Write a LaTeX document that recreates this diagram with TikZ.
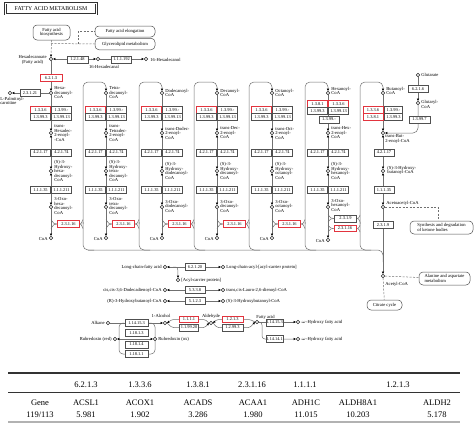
\documentclass[tikz,border=0pt]{standalone}
\usepackage{fontspec}
\setmainfont{Liberation Serif}
\usetikzlibrary{arrows.meta,backgrounds}
\definecolor{lg}{HTML}{707070}
\definecolor{bx}{HTML}{505050}
\definecolor{rd}{HTML}{E2343E}
\newcommand{\lf}{\fontsize{4.6}{4.5}\selectfont}
\newcommand{\ecf}{\fontsize{4.4}{4.5}\selectfont}
\begin{document}
\begin{tikzpicture}[x=1pt,y=-1pt,
 cpd/.style={circle,draw=black!85,fill=white,line width=0.45pt,inner sep=0pt,minimum size=3.6pt},
 ec/.style={draw=bx,fill=white,line width=0.5pt,inner sep=0pt,minimum width=20pt,minimum height=6.6pt,font=\ecf},
 ecr/.style={ec,draw=rd,line width=0.75pt},
 lbl/.style={font=\lf,inner sep=0.2pt,align=left},
 conn/.style={draw=lg,line width=0.5pt},
 arr/.style={-{Triangle[length=2.4pt,width=2.1pt,color=black]}},
 bi/.style={{Triangle[length=2.4pt,width=2.1pt,color=black]}-{Triangle[length=2.4pt,width=2.1pt,color=black]}},
 mapb/.style={draw=bx,fill=white,line width=0.5pt,rounded corners=4pt,align=center,font=\lf,inner sep=0pt},
 dsh/.style={draw=lg,line width=0.5pt,dash pattern=on 2pt off 1.5pt},
 tb/.style={font=\fontsize{8.5}{9}\selectfont,inner sep=0pt},
]
\begin{pgfonlayer}{background}
\fill[white] (0,0) rectangle (474,434);
\end{pgfonlayer}
\useasboundingbox (0,0) rectangle (474,434);

% title
\node[draw=black!80,line width=0.8pt,double=white,double distance=0.6pt,minimum width=91pt,minimum height=11pt,inner sep=0pt,font=\fontsize{5.8}{6}\selectfont] (title) at (51,8.5) {FATTY ACID METABOLISM};

% top map links
\node[mapb,minimum width=37pt,minimum height=15pt] (fab) at (51.5,32.5) {Fatty acid\\biosynthesis};
\node[mapb,minimum width=60pt,minimum height=11pt] (elo) at (125,31.5) {Fatty acid elongation};
\node[mapb,minimum width=60pt,minimum height=11.5pt] (gly) at (125,44) {Glycerolipid metabolism};

\node[cpd] (hxa) at (51,59) {};
\node[lbl,anchor=east,align=center] at (47,60) {Hexadecanoate\\(Fatty acid)};
\node[ec,minimum width=21pt] (e12148) at (77.5,59.5) {1.2.1.48};
\node[cpd] (hxal) at (98,59) {};
\node[lbl] at (104,67) {16-Hexadecanal};
\node[ec] (e111192) at (121.5,59.5) {1.1.1.192};
\node[cpd] (hxol) at (146,59) {};
\node[lbl,anchor=west] at (150,60) {16-Hexadecanol};
\node[ecr,minimum width=22pt] (e6213) at (51,78) {6.2.1.3};
\node[ec] (e23121) at (30,93) {2.3.1.21};
\node[cpd] (plc) at (10,93) {};
\node[lbl,anchor=north west] at (0,96.5) {L-Palmitoyl-\\carnitine};

% columns 1-5
\foreach \i/\c/\la/\lt/\lh/\lo in {
 1/51/{Hexa-\\decanoyl-\\CoA}/{trans-\\Hexadec-\\2-enoyl-\\-CoA}/{(S)-3-\\Hydroxy-\\hexa-\\decanoyl-\\CoA}/{3-Oxo-\\hexa-\\decanoyl-\\CoA},
 2/106/{Tetra-\\decanoyl-\\CoA}/{trans-\\Tetradec-\\2-enoyl-\\CoA}/{(S)-3-\\Hydroxy-\\tetra-\\decanoyl-\\CoA}/{3-Oxo-\\tetra-\\decanoyl-\\CoA},
 3/162/{Dodecanoyl-\\CoA}/{trans-Dodec-\\2-enoyl-\\CoA}/{(S)-3-\\Hydroxy-\\dodecanoyl-\\CoA}/{3-Oxo-\\dodecanoyl-\\CoA},
 4/217/{Decanoyl-\\CoA}/{trans-Dec-\\2-enoyl-\\CoA}/{(S)-3-\\Hydroxy-\\decanoyl-\\CoA}/{3-Oxo-\\decanoyl-\\CoA},
 5/272/{Octanoyl-\\CoA}/{trans-Oct-\\2-enoyl-\\CoA}/{(S)-3-\\Hydroxy-\\octanoyl-\\CoA}/{3-Oxo-\\octanoyl-\\CoA}}
{
 \node[cpd] (a\i) at (\c,93) {};
 \node[lbl,anchor=west] at (\c+3,93) {\la};
 \node[ecr] (p\i) at (\c-10.5,110) {1.3.3.6};
 \node[ec] (q\i) at (\c+10.5,110) {1.3.99.-};
 \node[ec] (r\i) at (\c-10.5,116.6) {1.3.99.3};
 \node[ec] (s\i) at (\c+10.5,116.6) {1.3.99.13};
 \node[cpd] (t\i) at (\c,133) {};
 \node[lbl,anchor=west] at (\c+3,133) {\lt};
 \node[ec] (u\i) at (\c-10.5,152.5) {4.2.1.17};
 \node[ec] (v\i) at (\c+10.5,152.5) {4.2.1.74};
 \node[cpd] (h\i) at (\c,171) {};
 \node[lbl,anchor=west] at (\c+3,171) {\lh};
 \node[ec] (w\i) at (\c-10.5,190) {1.1.1.35};
 \node[ec] (x\i) at (\c+10.5,190) {1.1.1.211};
 \node[cpd] (o\i) at (\c,207) {};
 \node[lbl,anchor=west] at (\c+3,206) {\lo};
 \node[ecr,minimum width=22pt] (th\i) at (\c+17.5,224) {2.3.1.16};
 \node[cpd] (coa\i) at (\c,238) {};
 \node[lbl,anchor=east] at (\c-3,238.5) {CoA};
}

% column 6
\node[cpd] (a6) at (328,93) {};
\node[lbl,anchor=west] at (331,91) {Hexanoyl-\\CoA};
\node[ecr] (p6) at (317.5,104) {1.3.8.1};
\node[ecr] (q6) at (338.5,104) {1.3.3.6};
\node[ec] (r6) at (317.5,110.6) {1.3.99.3};
\node[ec] (s6) at (338.5,110.6) {1.3.99.13};
\node[ec] (y6) at (329,119.5) {1.3.99.-};
\node[cpd] (t6) at (328,133) {};
\node[lbl,anchor=west] at (331,133) {trans-Hex-\\2-enoyl-\\CoA};
\node[ec] (u6) at (317.5,152.5) {4.2.1.17};
\node[ec] (v6) at (338.5,152.5) {4.2.1.74};
\node[cpd] (h6) at (328,171) {};
\node[lbl,anchor=west] at (331,171) {(S)-3-\\Hydroxy-\\hexanoyl-\\CoA};
\node[ec] (w6) at (317.5,190) {1.1.1.35};
\node[ec] (x6) at (338.5,190) {1.1.1.211};
\node[cpd] (o6) at (328,207) {};
\node[lbl,anchor=west] at (331,205) {3-Oxo-\\hexanoyl-\\CoA};
\node[ec,minimum width=22pt] (tn6) at (345.5,218.5) {2.3.1.9};
\node[ecr,minimum width=22pt] (th6) at (345,228.5) {2.3.1.16};
\node[cpd] (coa6) at (328,240) {};
\node[lbl,anchor=east] at (325,240.5) {CoA};

% column 7
\node[cpd] (a7) at (383,93) {};
\node[lbl,anchor=west] at (386,91) {Butanoyl-\\CoA};
\node[ecr] (p7) at (373,110) {1.3.3.6};
\node[ec,minimum width=18pt] (q7) at (393.5,110) {1.3.99.-};
\node[ecr] (r7) at (373,116.6) {1.3.8.1};
\node[ec,minimum width=18pt] (s7) at (393.5,116.6) {1.3.99.3};
\node[cpd] (t7) at (383,133) {};
\node[lbl,anchor=north west] at (385,134.5) {trans-But-\\2-enoyl-CoA};
\node[ec] (u7) at (384,152.5) {4.2.1.17};
\node[cpd] (h7) at (383,171) {};
\node[lbl,anchor=west] at (387,170.5) {(S)-3-Hydroxy-\\butanoyl-CoA};
\node[ec] (w7) at (384,190) {1.1.1.35};
\node[cpd] (o7) at (383,207) {};
\node[lbl,anchor=south west] at (386,205.5) {Acetoacetyl-CoA};
\node[ec] (tn7) at (383,225) {2.3.1.9};
\node[cpd] (acoa) at (383,276) {};
\node[lbl,anchor=west] at (385,284) {Acetyl-CoA};

% glutarate branch
\node[cpd] (glu) at (418,75) {};
\node[lbl,anchor=west] at (421,75) {Glutarate};
\node[ec] (e6216) at (418,89) {6.2.1.6};
\node[cpd] (gcoa) at (418,103) {};
\node[lbl,anchor=west] at (421,104.5) {Glutaryl-\\CoA};
\node[ec,minimum width=21pt] (e13997) at (419.5,119.5) {1.3.99.7};

% map links right
\node[mapb,minimum width=63pt,minimum height=13pt,align=left] (ket) at (441.5,227.5) {Synthesis and degradation\\of ketone bodies};
\node[mapb,minimum width=51pt,minimum height=13pt,align=left] (ala) at (444.5,278.5) {Alanine and aspartate\\metabolism};
\node[mapb,minimum width=35pt,minimum height=10pt] (cit) at (384.5,305) {Citrate cycle};
\coordinate (kc) at (438,207);

% middle reactions
\node[cpd] (lcfa) at (165,267) {};
\node[lbl,anchor=east] at (162,267) {Long-chain-fatty acid};
\node[ec] (e62120) at (195,267) {6.2.1.20};
\node[cpd] (lcacp) at (223,267) {};
\node[lbl,anchor=west] at (226,267) {Long-chain-acyl-[acyl-carrier protein]};
\node[cpd] (acp) at (178,280) {};
\node[lbl,anchor=west] at (181,280) {[Acyl-carrier protein]};
\node[cpd] (ccd) at (165,290) {};
\node[lbl,anchor=east] at (162,290) {cis,cis-3,6-Dodecadienoyl-CoA};
\node[ec] (e5338) at (195,290) {5.3.3.8};
\node[cpd] (tcl) at (223,290) {};
\node[lbl,anchor=west] at (226,290) {trans,cis-Lauro-2,6-dienoyl-CoA};
\node[cpd] (rhb) at (165,301) {};
\node[lbl,anchor=east] at (162,301) {(R)-3-Hydroxybutanoyl-CoA};
\node[ec] (e5123) at (195,301) {5.1.2.3};
\node[cpd] (shb) at (223,301) {};
\node[lbl,anchor=west] at (226,301) {(S)-3-Hydroxybutanoyl-CoA};

% lower group
\node[cpd] (alk) at (108,323) {};
\node[lbl,anchor=east] at (105,323) {Alkane};
\node[ec,minimum width=23pt] (e141153) at (136.5,323) {1.14.15.3};
\node[cpd] (alc) at (165,323) {};
\node[lbl,anchor=south] at (161,318) {1-Alcohol};
\node[ecr,minimum width=19pt] (e1111) at (189,319.5) {1.1.1.1};
\node[ec,minimum width=19pt] (e119920) at (189,327.5) {1.1.99.20};
\node[cpd] (ald) at (211,323) {};
\node[lbl,anchor=south] at (211,318.5) {Aldehyde};
\node[ecr,minimum width=21pt] (e1213) at (232.5,319.5) {1.2.1.3};
\node[ec,minimum width=21pt] (e12993) at (232.5,327.5) {1.2.99.3};
\node[cpd] (fa) at (257,322) {};
\node[lbl,anchor=south west] at (256,319.5) {Fatty acid};
\node[ec,minimum width=16pt] (e141153b) at (274.5,322.5) {1.14.15.3};
\node[cpd] (ohf1) at (298,322) {};
\node[lbl,anchor=west] at (301,322.5) {$\omega$-Hydroxy fatty acid};
\node[ec,minimum width=16pt] (e141141) at (274.5,339) {1.14.14.1};
\node[cpd] (ohf2) at (298,339) {};
\node[lbl,anchor=west] at (301,339.5) {$\omega$-Hydroxy fatty acid};
\node[cpd] (rred) at (115,339) {};
\node[lbl,anchor=east] at (112,339) {Rubredoxin (red)};
\node[cpd] (rox) at (155,339) {};
\node[lbl,anchor=west] at (158,339) {Rubredoxin (ox)};
\node[ec,minimum width=23pt] (e18113) at (136.5,333) {1.18.1.3};
\node[ec,minimum width=23pt] (e18114) at (136.5,344.5) {1.18.1.4};
\node[ec,minimum width=23pt] (e18111) at (136.5,354) {1.18.1.1};

% table
\draw[line width=1.4pt,black!80] (8,373) -- (460,373);
\draw[line width=1pt,black!80] (8,392) -- (460,392);
\draw[line width=2pt,black!30] (8,422) -- (460,422);
\foreach \x/\t in {86/6.2.1.3,140/1.3.3.6,198/1.3.8.1,252/2.3.1.16,305/1.1.1.1,398/1.2.1.3}
 \node[tb] at (\x,385) {\t};
\foreach \x/\t/\v in {40/Gene/119\slash113,86/ACSL1/5.981,140/ACOX1/1.902,198/ACADS/3.286,253/ACAA1/1.980,306/ADH1C/11.015,358/ALDH8A1/10.203,437/ALDH2/5.178}{
 \node[tb] at (\x,403) {\t};
 \node[tb] at (\x,414.5) {\v};
}

% ---------------- connectors ----------------
\begin{pgfonlayer}{background}
\draw[dsh,arr] (fab.south) -- (hxa.north);
\draw[dsh] (51,43.5) -- (gly.west);
\draw[dsh] (78,43.5) -- (78,31.5) -- (elo.west);
\draw[conn,bi] (hxa) -- (hxal);
\draw[conn,arr] (hxal) -- (hxol);
\draw[conn,arr] (hxa) -- (a1);
\draw[conn,arr] (a1) -- (plc);

\foreach \i/\c/\n in {1/51/106,2/106/162,3/162/217,4/217/272,5/272/328}{
 \draw[conn,arr] (a\i) -- (t\i);
 \draw[conn,bi] (t\i) -- (h\i);
 \draw[conn,bi] (h\i) -- (o\i);
 \draw[conn,arr] (o\i) -- (coa\i);
 \draw[conn] (\c,219.5) .. controls (\c+3,224) .. (th\i.west);
 \draw[conn] (\c,228.5) .. controls (\c+3,224) .. (th\i.west);
 \draw[conn] (th\i.east) .. controls (\n-25,224) .. (\n-23,219.5);
 \draw[conn] (th\i.east) .. controls (\n-25,224) .. (\n-23,228.5);
}
\foreach \i/\c/\n in {1/51/106,2/106/162,3/162/217,4/217/272,5/272/328,6/328/383}{
 \pgfmathtruncatemacro{\j}{\i+1}
 \draw[conn,arr,rounded corners=5pt] (\n-23,224) -- (\n-23,82) -- (\n,82) -- (a\j.north);
 \draw[conn,rounded corners=5pt] (\n-23,222) -- (\n-23,250) -- (\n-12,250);
}
\draw[conn,rounded corners=5pt] (88,250) -- (383,250) -- (383,262);

% column 6 lines
\draw[conn,arr] (a6) -- (t6);
\draw[conn,bi] (t6) -- (h6);
\draw[conn,bi] (h6) -- (o6);
\draw[conn,arr] (o6) -- (coa6);
\draw[conn] (328,214.5) .. controls (331,218.5) .. (tn6.west);
\draw[conn] (328,222) .. controls (331,218.5) .. (tn6.west);
\draw[conn] (328,225) .. controls (331,228.5) .. (th6.west);
\draw[conn] (328,232) .. controls (331,228.5) .. (th6.west);
\draw[conn] (tn6.east) .. controls (358.5,218.5) .. (360,215);
\draw[conn] (tn6.east) .. controls (358.5,218.5) .. (360,222);
\draw[conn] (th6.east) .. controls (358.5,228.5) .. (360,225);
\draw[conn] (th6.east) .. controls (358.5,228.5) .. (360,232);

% column 7 lines
\draw[conn,arr] (a7) -- (t7);
\draw[conn,bi] (t7) -- (h7);
\draw[conn,bi] (h7) -- (o7);
\draw[conn,arr] (o7) -- (acoa);
\draw[conn,arr] (glu) -- (gcoa);
\draw[conn,arr,rounded corners=5pt] (gcoa) -- (418,133) -- (t7);
\draw[dsh] (o7) -- (kc) -- (kc |- ket.north);
\draw[dsh] (acoa) -- (ala);
\draw[dsh] (acoa) -- (cit);

% middle reactions
\draw[conn,bi] (lcfa) -- (lcacp);
\draw[conn,arr] (173,267) .. controls (178,267) .. (acp.north);
\draw[conn,bi] (ccd) -- (tcl);
\draw[conn,bi] (rhb) -- (shb);

% lower group
\draw[conn,arr] (alk) -- (alc);
\draw[conn,arr,rounded corners=1.5pt] (ald.west) -- (205,319.5) -- (172,319.5) -- (alc.east);
\draw[conn,arr,rounded corners=1.5pt] (alc.east) -- (172,327.5) -- (205,327.5) -- (ald.west);
\draw[conn,arr,rounded corners=1.5pt] (fa.west) -- (250,319.5) -- (217,319.5) -- (ald.east);
\draw[conn,arr,rounded corners=1.5pt] (ald.east) -- (217,327.5) -- (250,327.5) -- (fa.west);
\draw[conn,arr] (fa) -- (ohf1);
\draw[conn,arr,rounded corners=3pt] (fa) -- (262,322) -- (262,339) -- (ohf2);
\draw[conn,rounded corners=4pt] (124,323) -- (119,323) -- (119,354) -- (e18111.west);
\draw[conn,rounded corners=4pt] (149,323) -- (155,323) -- (155,354) -- (e18111.east);
\draw[conn,bi] (rred) -- (rox);
\end{pgfonlayer}
\end{tikzpicture}
\end{document}
